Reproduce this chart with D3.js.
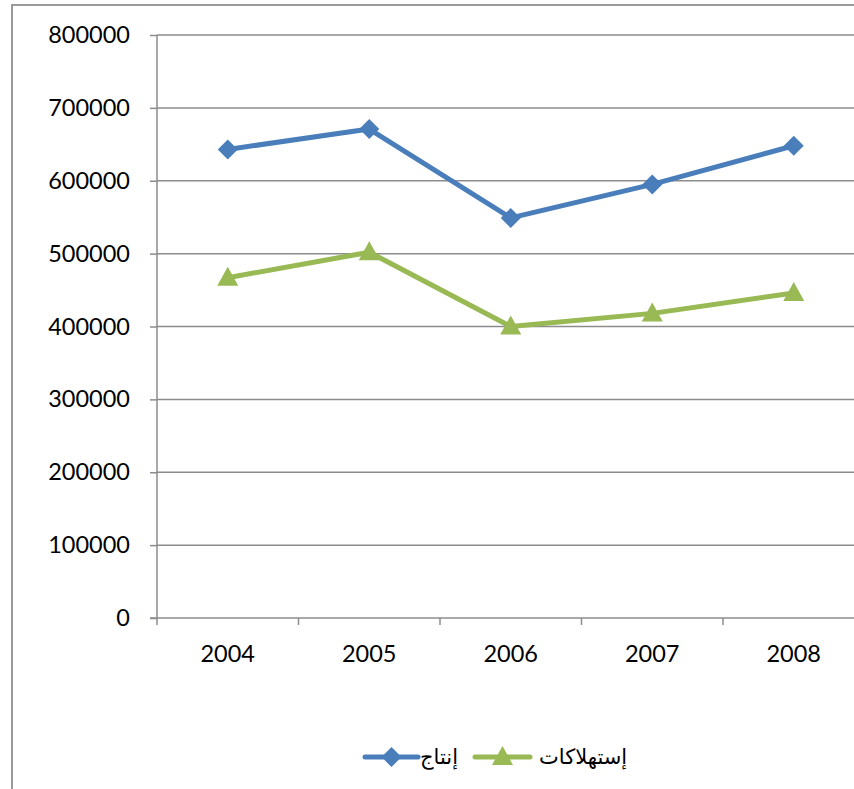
<!DOCTYPE html>
<html><head><meta charset="utf-8">
<script src="https://cdn.jsdelivr.net/npm/d3@7"></script>
<style>body{margin:0;background:#fff}svg{display:block}</style>
</head><body>
<svg id="c" width="854" height="789"></svg>
<script>
const years = ["2004","2005","2006","2007","2008"];
const production = [643000, 671000, 549000, 595000, 648000];
const consumption = [467000, 502000, 400000, 418000, 446000];
const yTicks = [0,100000,200000,300000,400000,500000,600000,700000,800000];
const seriesNames = ["إنتاج","إستهلاكات"];
const colors = ["#4A7EBB","#98B954"];

(function(){
const svg = d3.select("#c");
const font = "Lato, 'Open Sans', 'DejaVu Sans', sans-serif";
svg.append("rect").attr("x",12).attr("y",5).attr("width",900).attr("height",900)
  .attr("fill","#fff").attr("stroke","#9a9a9a").attr("stroke-width",2);

const pLeft=157, pRight=864.5, pTop=35, pBottom=618;
const x = d3.scaleBand().domain(years).range([pLeft,pRight]);
const y = d3.scaleLinear().domain([0,800000]).range([pBottom,pTop]);

// gridlines
svg.append("g").selectAll("line").data(yTicks.filter(d=>d>0)).join("line")
  .attr("x1",pLeft).attr("x2",854).attr("y1",d=>y(d)).attr("y2",d=>y(d))
  .attr("stroke","#8c8c8c").attr("stroke-width",1.5);

// y axis
const ya = svg.append("g").attr("transform",`translate(${pLeft},0)`)
  .call(d3.axisLeft(y).tickValues(yTicks).tickSize(7).tickPadding(20).tickFormat(d3.format("d")));
ya.select(".domain").attr("stroke","#8c8c8c").attr("stroke-width",1.5).attr("d",`M0,${pTop}V${pBottom}`);
ya.selectAll(".tick line").attr("stroke","#8c8c8c").attr("stroke-width",1.5);
ya.selectAll("text").attr("font-family",font).attr("font-size",23.5).attr("fill","#000");

// x axis
const xa = svg.append("g").attr("transform",`translate(0,${pBottom})`);
xa.append("line").attr("x1",pLeft-7).attr("x2",854).attr("y1",0).attr("y2",0)
  .attr("stroke","#8c8c8c").attr("stroke-width",1.5);
const bounds = years.map(d=>x(d)).concat([x(years[years.length-1])+x.bandwidth()]);
xa.selectAll(".tk").data(bounds).join("line").attr("class","tk")
  .attr("x1",d=>d).attr("x2",d=>d).attr("y1",0).attr("y2",7)
  .attr("stroke","#8c8c8c").attr("stroke-width",1.5);
xa.selectAll("text").data(years).join("text")
  .attr("x",d=>x(d)+x.bandwidth()/2).attr("y",44)
  .attr("text-anchor","middle").attr("font-family",font).attr("font-size",23.5).text(d=>d);

const cx = d=>x(d)+x.bandwidth()/2;
const line = d3.line().x((d,i)=>cx(years[i])).y(d=>y(d));
const diamondPath = "M0,-10L10,0L0,10L-10,0Z";
const triPath = "M0,-11L10.5,8L-10.5,8Z";

svg.append("path").datum(production).attr("d",line).attr("fill","none")
  .attr("stroke",colors[0]).attr("stroke-width",5).attr("stroke-linejoin","round").attr("stroke-linecap","round");
svg.selectAll(".dm").data(production).join("path").attr("class","dm")
  .attr("transform",(d,i)=>`translate(${cx(years[i])},${y(d)})`).attr("d",diamondPath).attr("fill",colors[0]);

svg.append("path").datum(consumption).attr("d",line).attr("fill","none")
  .attr("stroke",colors[1]).attr("stroke-width",5).attr("stroke-linejoin","round").attr("stroke-linecap","round");
svg.selectAll(".tr").data(consumption).join("path").attr("class","tr")
  .attr("transform",(d,i)=>`translate(${cx(years[i])},${y(d)})`).attr("d",triPath).attr("fill",colors[1]);

// legend
const ly = 757;
const lg = svg.append("g");
const items = [
  {x0:365, x1:418, tx:420, path:diamondPath, c:colors[0], name:seriesNames[0]},
  {x0:475, x1:530, tx:539, path:triPath, c:colors[1], name:seriesNames[1]}
];
items.forEach(it=>{
  lg.append("line").attr("x1",it.x0).attr("x2",it.x1).attr("y1",ly).attr("y2",ly)
    .attr("stroke",it.c).attr("stroke-width",5).attr("stroke-linecap","round");
  lg.append("path").attr("transform",`translate(${(it.x0+it.x1)/2},${ly})`).attr("d",it.path).attr("fill",it.c);
  lg.append("text").attr("x",it.tx).attr("y",ly+7).attr("text-anchor","start")
    .attr("font-family","'DejaVu Sans', sans-serif").attr("font-size",21).text(it.name);
});
})();
</script>
</body></html>
